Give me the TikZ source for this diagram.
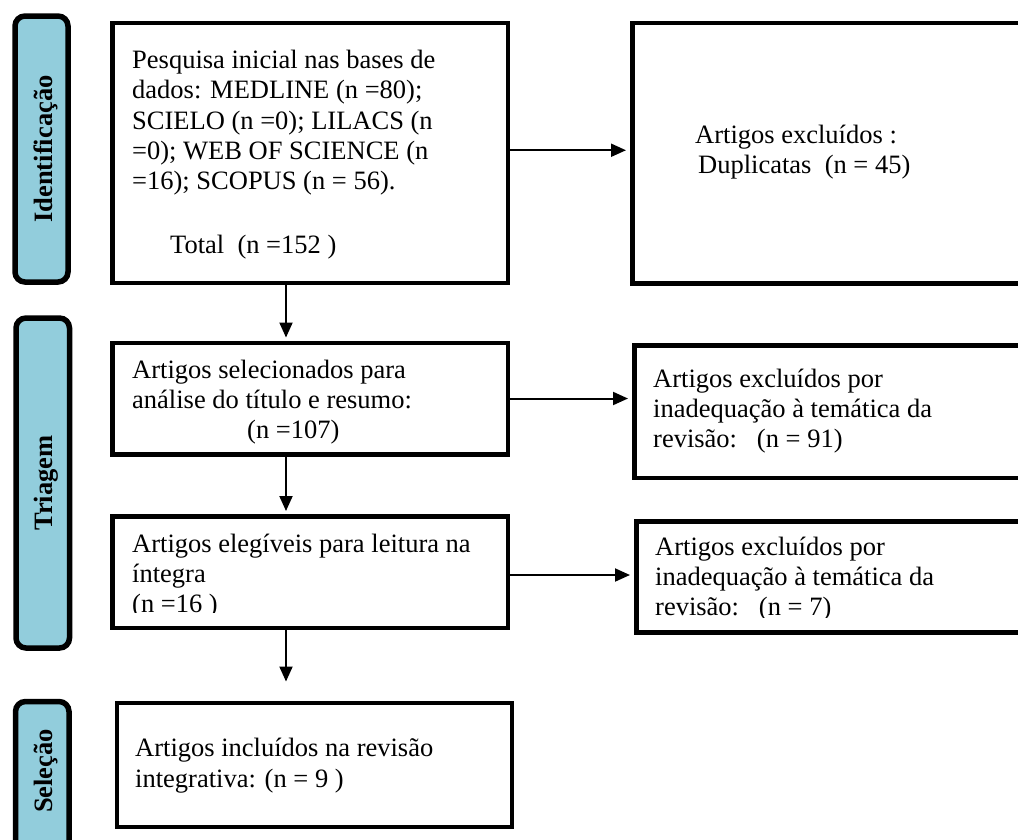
\documentclass[tikz,border=0pt]{standalone}
\usepackage{fontspec}
\setmainfont{Liberation Serif}
\usetikzlibrary{arrows.meta,positioning,calc}
\definecolor{faseazul}{HTML}{92CDDC}
\tikzset{
fase/.style={draw, line width=5.5pt, rounded corners=10pt, fill=faseazul, inner sep=0pt},
rotulo/.style={rotate=90, inner sep=0pt, font=\fontsize{26.5}{30.3}\selectfont\bfseries},
caixa/.style={draw, line width=4.5pt, inner sep=0pt, anchor=north west},
texto/.style={anchor=north west, inner sep=0pt, align=left, font=\fontsize{26.5}{30.3}\selectfont},
seta/.style={line width=2pt, -{Triangle[length=15pt,width=13pt]}},
}

\begin{document}
\begin{tikzpicture}[x=1pt,y=-1pt]
\clip (0,0) rectangle (1018,839);
\node[fase, minimum width=53pt, minimum height=266pt] (identificacao) at (41.5,149) {};
\node[rotulo] (tIdentificacao) at ([xshift=4pt]identificacao.center) {Identificação};
\node[fase, minimum width=53.5pt, minimum height=330pt] (triagem) at (42.75,483) {};
\node[rotulo] (tTriagem) at ([xshift=3pt]triagem.center) {Triagem};
\node[fase, minimum width=53.5pt, minimum height=160pt] (selecao) at (42.25,781.5) {};
\node[rotulo] (tSelecao) at (45.5,771) {Seleção};

\node[caixa, minimum width=395.5pt, minimum height=260pt] (pesquisa) at (110,20.5) {};
\node[texto] (tPesquisa) at (132,47.1) {\strut Pesquisa inicial nas bases de\\
dados: MEDLINE (n =80);\\
SCIELO (n =0); LILACS (n\\
=0); WEB OF SCIENCE (n\\
=16); SCOPUS (n = 56).};
\node[texto] (total) at (170,231.8) {\strut Total~~(n =152 )};

\node[caixa, minimum width=395.5pt, minimum height=111.5pt] (selecionados) at (110,340.5) {};
\node[texto] (tSelecionados) at (132,356.8) {\strut Artigos selecionados para\\
análise do título e resumo:\\
\hspace*{115pt}(n =107)};

\node[caixa, minimum width=395.5pt, minimum height=111.5pt] (elegiveis) at (110,514) {};
\begin{scope}
\clip (110,514) rectangle (505.5,612.8);
\node[texto] (tElegiveis) at (132,530.8) {\strut Artigos elegíveis para leitura na\\
íntegra\\
(n =16 )};
\end{scope}

\node[caixa, minimum width=395pt, minimum height=124pt] (incluidos) at (114.5,700.5) {};
\node[texto] (tIncluidos) at (135,735.3) {\strut Artigos incluídos na revisão\\
integrativa: (n = 9 )};

\node[caixa, minimum width=420pt, minimum height=260.3pt] (duplicatas) at (630,20.7) {};
\node[texto] (tDuplicatas) at (695,121.8) {\strut Artigos excluídos :\\
\hspace*{3pt}Duplicatas~~(n = 45)};

\node[caixa, minimum width=420pt, minimum height=132.6pt] (excluidos1) at (632,343) {};
\node[texto] (tExcluidos1) at (653,365.8) {\strut Artigos excluídos por\\
inadequação à temática da\\
revisão:~~~(n = 91)};

\node[caixa, minimum width=420pt, minimum height=111pt] (excluidos2) at (634,519) {};
\begin{scope}
\clip (634,519) rectangle (1018,617.6);
\node[texto] (tExcluidos2) at (655,533.8) {\strut Artigos excluídos por\\
inadequação à temática da\\
revisão:~~~(n = 7)};
\end{scope}

\coordinate (eixo) at (286,0);
\coordinate (fim) at (286,681.5);
\draw[seta, shorten >=3pt] (pesquisa.south -| eixo) -- (selecionados.north -| eixo);
\draw[seta, shorten >=3pt] (selecionados.south -| eixo) -- (elegiveis.north -| eixo);
\draw[seta] (elegiveis.south -| eixo) -- (fim);
\draw[seta, shorten >=4pt] ([yshift=2.5pt]pesquisa.east) -- ([yshift=2.5pt]pesquisa.east -| duplicatas.west);
\draw[seta, shorten >=4pt] (selecionados.east) -- (selecionados.east -| excluidos1.west);
\draw[seta, shorten >=4pt] ([yshift=-3pt]elegiveis.east) -- ([yshift=-3pt]elegiveis.east -| excluidos2.west);
\end{tikzpicture}
\end{document}
